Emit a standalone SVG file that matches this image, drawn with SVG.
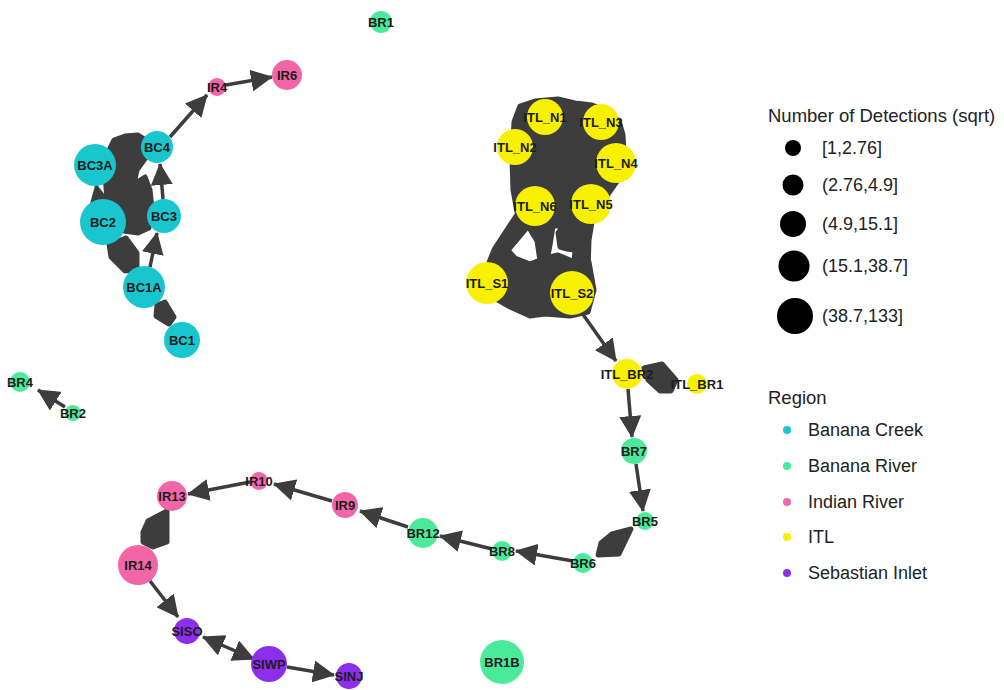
<svg xmlns="http://www.w3.org/2000/svg" width="1004" height="690" viewBox="0 0 1004 690">
<style>
.e{stroke:#3d3d3d;stroke-width:3.5;fill:none;marker-end:url(#ah)}
.b{fill:#3d3d3d;stroke:#3d3d3d;stroke-width:5;stroke-linejoin:round}
.bc{fill:#19C6CE}.br{fill:#4BEA9A}.ir{fill:#F266A8}.itl{fill:#F7F100}.si{fill:#8C2EEC}
.nl{font-family:"Liberation Sans",Arial,sans-serif;font-weight:bold;font-size:13px;fill:#1c1c1c;text-anchor:middle}
.lg{font-family:"Liberation Sans",Arial,sans-serif;font-size:18px;fill:#222}
.lt{font-family:"Liberation Sans",Arial,sans-serif;font-size:18.5px;fill:#222}
</style>
<defs>
<marker id="ah" viewBox="0 0 22 22" refX="21" refY="11" markerWidth="22" markerHeight="22" markerUnits="userSpaceOnUse" orient="auto"><path d="M0,0 L22,11 L0,22 z" fill="#3d3d3d"/></marker>
<marker id="as" viewBox="0 0 22 22" refX="21" refY="11" markerWidth="22" markerHeight="22" markerUnits="userSpaceOnUse" orient="auto-start-reverse"><path d="M0,0 L22,11 L0,22 z" fill="#3d3d3d"/></marker>
</defs>
<rect width="1004" height="690" fill="#fff"/>
<g id="connectors">
<path class="b" d="M110,148 L114,140 L125,136 L138,135 L146,140 L147,156 L137,170 L134,184 L145,177 L150,190 L152,208 L149,228 L138,233 L124,231 L113,221 L107,200 L105,175 L107,158 Z"/>
<path class="b" d="M109,244 L126,238 L137,253 L137,269 L125,271 L111,257 Z"/>
<path class="b" d="M157,305 L165,302 L174,317 L169,324 L156,316 Z"/>
<path class="b" d="M514,122 L520,106 L535,101 L558,99 L575,103 L592,105 L609,111 L619,121 L623,135 L624,152 L618,180 L604,200 L592,222 L589,240 L588,272 L577,274 L574,262 L575,250 L567,249 L560,247 L558,233 L563,226 L553,226 L550,245 L547,261 L540,261 L537,241 L528,226 L517,212 L513,190 L512,160 Z"/>
<path class="b" d="M518,213 L531,223 L505,254 L495,248 Z"/>
<path class="b" d="M494,250 L505,247 L515,258 L530,264 L545,258 L558,255 L575,262 L589,262 L594,290 L588,312 L570,316 L545,314 L530,316 L510,307 L498,300 L482,280 Z"/>
<path class="b" d="M644,368 L662,364 L676,380 L671,391 L660,391 L648,380 Z"/>
<path class="b" d="M612,534 L631,529 L619,554 L598,555 L601,543 Z"/>
<path class="b" d="M148,521 L167,511 L167,542 L153,547 L143,542 L143,532 Z"/>
<line class="e" x1="170" y1="137" x2="207" y2="95"/>
<line class="e" x1="226" y1="85" x2="272" y2="77"/>
<line class="e" x1="163" y1="199" x2="160" y2="164"/>
<line class="e" x1="150" y1="267" x2="157" y2="233"/>
<line class="e" x1="100" y1="205" x2="96" y2="184"/>
<line class="e" x1="65" y1="407" x2="38" y2="390"/>
<line class="e" x1="582" y1="313" x2="616" y2="361"/>
<line class="e" x1="628" y1="389" x2="632" y2="437"/>
<line class="e" x1="636" y1="464" x2="643" y2="511"/>
<line class="e" x1="573" y1="561" x2="516" y2="551"/>
<line class="e" x1="492" y1="549" x2="440" y2="536"/>
<line class="e" x1="408" y1="527" x2="360" y2="511"/>
<line class="e" x1="332" y1="501" x2="274" y2="484"/>
<line class="e" x1="250" y1="482" x2="188" y2="494"/>
<line class="e" x1="150" y1="581" x2="178" y2="617"/>
<line class="e" x1="203" y1="637" x2="254" y2="659" style="marker-start:url(#as)"/>
<line class="e" x1="287" y1="667" x2="334" y2="675"/>
</g>
<g id="BR1"><circle class="br" cx="381" cy="22" r="11"/><text class="nl" x="381" y="26.5">BR1</text></g>
<g id="IR4"><circle class="ir" cx="217" cy="87" r="9"/><text class="nl" x="217" y="91.5">IR4</text></g>
<g id="IR6"><circle class="ir" cx="287" cy="75" r="15"/><text class="nl" x="287" y="79.5">IR6</text></g>
<g id="BC4"><circle class="bc" cx="157" cy="147" r="16"/><text class="nl" x="157" y="151.5">BC4</text></g>
<g id="BC3A"><circle class="bc" cx="95" cy="165" r="21"/><text class="nl" x="95" y="169.5">BC3A</text></g>
<g id="BC3"><circle class="bc" cx="164" cy="216" r="17"/><text class="nl" x="164" y="220.5">BC3</text></g>
<g id="BC2"><circle class="bc" cx="103" cy="222" r="23"/><text class="nl" x="103" y="226.5">BC2</text></g>
<g id="BC1A"><circle class="bc" cx="144" cy="287" r="21"/><text class="nl" x="144" y="291.5">BC1A</text></g>
<g id="BC1"><circle class="bc" cx="182" cy="340" r="18"/><text class="nl" x="182" y="344.5">BC1</text></g>
<g id="BR4"><circle class="br" cx="20" cy="382" r="10"/><text class="nl" x="20" y="386.5">BR4</text></g>
<g id="BR2"><circle class="br" cx="73" cy="413" r="8"/><text class="nl" x="73" y="417.5">BR2</text></g>
<g id="ITL_N1"><circle class="itl" cx="545" cy="117" r="18"/><text class="nl" x="545" y="121.5">ITL_N1</text></g>
<g id="ITL_N3"><circle class="itl" cx="601" cy="122" r="18"/><text class="nl" x="601" y="126.5">ITL_N3</text></g>
<g id="ITL_N2"><circle class="itl" cx="515" cy="147" r="18"/><text class="nl" x="515" y="151.5">ITL_N2</text></g>
<g id="ITL_N4"><circle class="itl" cx="616" cy="163" r="20"/><text class="nl" x="616" y="167.5">ITL_N4</text></g>
<g id="ITL_N6"><circle class="itl" cx="535" cy="206" r="20"/><text class="nl" x="535" y="210.5">ITL_N6</text></g>
<g id="ITL_N5"><circle class="itl" cx="591" cy="204" r="20"/><text class="nl" x="591" y="208.5">ITL_N5</text></g>
<g id="ITL_S1"><circle class="itl" cx="487" cy="283" r="21"/><text class="nl" x="487" y="287.5">ITL_S1</text></g>
<g id="ITL_S2"><circle class="itl" cx="572" cy="293" r="22"/><text class="nl" x="572" y="297.5">ITL_S2</text></g>
<g id="ITL_BR2"><circle class="itl" cx="627" cy="374" r="15"/><text class="nl" x="627" y="378.5">ITL_BR2</text></g>
<g id="ITL_BR1"><circle class="itl" cx="697" cy="384" r="10"/><text class="nl" x="697" y="388.5">ITL_BR1</text></g>
<g id="BR7"><circle class="br" cx="634" cy="451" r="13"/><text class="nl" x="634" y="455.5">BR7</text></g>
<g id="BR5"><circle class="br" cx="645" cy="521" r="9"/><text class="nl" x="645" y="525.5">BR5</text></g>
<g id="BR6"><circle class="br" cx="583" cy="563" r="10"/><text class="nl" x="583" y="567.5">BR6</text></g>
<g id="BR8"><circle class="br" cx="502" cy="551" r="10"/><text class="nl" x="502" y="555.5">BR8</text></g>
<g id="BR12"><circle class="br" cx="423" cy="533" r="15"/><text class="nl" x="423" y="537.5">BR12</text></g>
<g id="IR9"><circle class="ir" cx="345" cy="505" r="13"/><text class="nl" x="345" y="509.5">IR9</text></g>
<g id="IR10"><circle class="ir" cx="259" cy="481" r="9"/><text class="nl" x="259" y="485.5">IR10</text></g>
<g id="IR13"><circle class="ir" cx="172" cy="496" r="15"/><text class="nl" x="172" y="500.5">IR13</text></g>
<g id="IR14"><circle class="ir" cx="138" cy="565" r="20"/><text class="nl" x="138" y="569.5">IR14</text></g>
<g id="SISO"><circle class="si" cx="187" cy="631" r="13"/><text class="nl" x="187" y="635.5">SISO</text></g>
<g id="SIWP"><circle class="si" cx="269" cy="664" r="18"/><text class="nl" x="269" y="668.5">SIWP</text></g>
<g id="SINJ"><circle class="si" cx="349" cy="676" r="13"/><text class="nl" x="349" y="680.5">SINJ</text></g>
<g id="BR1B"><circle class="br" cx="502" cy="662" r="22"/><text class="nl" x="502" y="666.5">BR1B</text></g>
<g id="legend-size">
<text class="lt" x="768" y="122">Number of Detections (sqrt)</text>
<circle cx="793" cy="148" r="8" fill="#000"/><text class="lg" x="822" y="154">[1,2.76]</text>
<circle cx="793" cy="185" r="10.5" fill="#000"/><text class="lg" x="822" y="191">(2.76,4.9]</text>
<circle cx="793" cy="224" r="13" fill="#000"/><text class="lg" x="822" y="230">(4.9,15.1]</text>
<circle cx="794" cy="266" r="15.5" fill="#000"/><text class="lg" x="822" y="272">(15.1,38.7]</text>
<circle cx="795" cy="316" r="18" fill="#000"/><text class="lg" x="822" y="322">(38.7,133]</text>
</g>
<g id="legend-region">
<text class="lt" x="768" y="404">Region</text>
<circle class="bc" cx="787" cy="430" r="4"/><text class="lg" x="808" y="436">Banana Creek</text>
<circle class="br" cx="787" cy="466" r="4"/><text class="lg" x="808" y="472">Banana River</text>
<circle class="ir" cx="787" cy="502" r="4"/><text class="lg" x="808" y="508">Indian River</text>
<circle class="itl" cx="787" cy="537" r="4"/><text class="lg" x="808" y="543">ITL</text>
<circle class="si" cx="787" cy="573" r="4"/><text class="lg" x="808" y="579">Sebastian Inlet</text>
</g>
</svg>
